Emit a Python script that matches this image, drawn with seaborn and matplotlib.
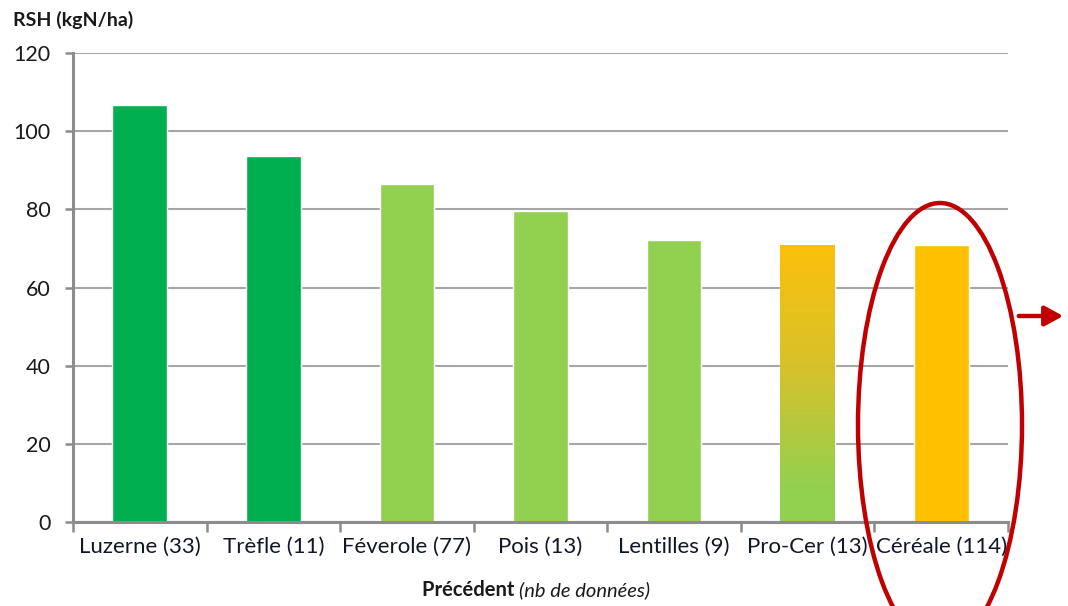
import matplotlib
matplotlib.use("Agg")
import matplotlib.pyplot as plt
import seaborn as sns
import numpy as np
import pandas as pd
from matplotlib.patches import Ellipse
from matplotlib.colors import LinearSegmentedColormap

categories = ["Luzerne (33)", "Trèfle (11)", "Féverole (77)", "Pois (13)",
              "Lentilles (9)", "Pro-Cer (13)", "Céréale (114)"]
values = [106.7, 93.7, 86.5, 79.6, 72.2, 70.9, 70.9]
colors = ["#00B050", "#00B050", "#92D050", "#92D050", "#92D050", "#F2BE1A", "#FFC000"]
yticks = [0, 20, 40, 60, 80, 100, 120]

sns.set_theme(style="white")
plt.rcParams["font.family"] = ["Lato", "DejaVu Sans"]

df = pd.DataFrame({"cat": categories, "val": values})

fig = plt.figure(figsize=(10.68, 6.06), dpi=100)
ax = fig.add_axes([73/1068, 1-522/606, (1008-73)/1068, (522-53)/606])

sns.barplot(data=df, x="cat", y="val", hue="cat", palette=colors, legend=False,
            width=0.41, ax=ax, saturation=1, zorder=3)

# gradient for Pro-Cer bar
p = ax.patches[5]
x0, y0 = p.get_x(), p.get_y()
w, h = p.get_width(), p.get_height()
cmap = LinearSegmentedColormap.from_list("g", [(0, "#92D050"), (0.12, "#92D050"), (0.55, "#D6C22C"), (1, "#FCC00C")])
grad = np.linspace(0, 1, 256).reshape(-1, 1)
im = ax.imshow(grad, extent=[x0, x0 + w, y0, y0 + h], origin="lower", aspect="auto",
               cmap=cmap, zorder=3.5)
im.set_clip_path(p)
p.set_facecolor("none")

ax.set_xlim(-0.5, 6.5)
ax.set_ylim(0, 120)
ax.set_yticks(yticks)
ax.set_yticklabels([str(t) for t in yticks], fontsize=15.5, color="#1a1a1a")
ax.set_xticks(range(len(categories)))
ax.set_xticklabels(categories, fontsize=16, color="#101828")
ax.set_xticks(np.arange(-0.5, 7, 1), minor=True)
ax.tick_params(axis="x", which="major", length=0, pad=11)
ax.tick_params(axis="x", which="minor", length=7, width=1.8, color="#8C8C8C", direction="out", bottom=True)
ax.tick_params(axis="y", length=6, width=1.8, color="#8C8C8C", direction="out", left=True, pad=10)

ax.grid(axis="y", color="#A6A6A6", linewidth=1.5, zorder=0)
ax.set_axisbelow(True)
for s in ["top", "right"]:
    ax.spines[s].set_visible(False)
for s in ["left", "bottom"]:
    ax.spines[s].set_color("#8C8C8C")
    ax.spines[s].set_linewidth(2.2)
    ax.spines[s].set_zorder(4)

ax.set_xlabel("")
ax.set_ylabel("")

fig.text(13/1068, 1-20/606, "RSH (kgN/ha)", fontsize=14, fontweight="bold",
         ha="left", va="center", color="#1a1a1a")
fig.text(519/1068, 1-590/606, "Précédent ", fontsize=14.5, fontweight="bold",
         ha="right", va="center", color="#1a1a1a")
fig.text(519/1068, 1-590/606, "(nb de données)", fontsize=14.5, fontstyle="italic",
         ha="left", va="center", color="#1a1a1a")

# red ellipse and arrow
ell = Ellipse((940/1068, 1-425/606), 164/1068, 444/606, transform=fig.transFigure,
              fill=False, edgecolor="#C00000", linewidth=3.2, clip_on=False, zorder=10)
fig.add_artist(ell)
fig.add_artist(matplotlib.patches.FancyArrowPatch(
    (1016/1068, 1-316/606), (1066/1068, 1-316/606), transform=fig.transFigure,
    arrowstyle="-|>,head_length=11,head_width=6", color="#C00000", linewidth=3.2,
    mutation_scale=1, clip_on=False, zorder=10))

fig.savefig("out.png", dpi=100)
